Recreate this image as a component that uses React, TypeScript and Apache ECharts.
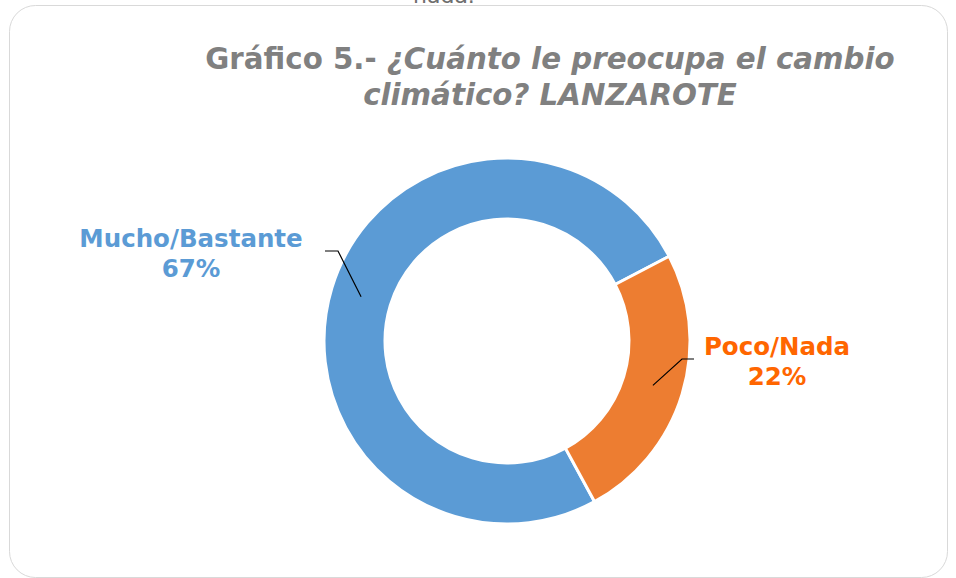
import React, { useEffect, useRef } from "react";
import * as echarts from "echarts";

const categories = ["Mucho/Bastante", "Poco/Nada"];
const values = [67, 22];
const sliceColors = ["#5B9BD5", "#ED7D31"];
const labelColors = ["#5B9BD5", "#FF6600"];
const titleLine1Plain = "Gráfico 5.-";
const titleLine1Italic = "¿Cuánto le preocupa el cambio";
const titleLine2Italic = "climático? LANZAROTE";
const strayText = "nada.";

export default function App() {
  const ref = useRef<HTMLDivElement>(null);
  useEffect(() => {
    if (!ref.current) return;
    const chart = echarts.init(ref.current, undefined, { renderer: "svg" });
    const cx = 507;
    const cy = 341;
    const rIn = 122;
    const rOut = 183;
    const startAngle = -61.4; // ECharts degrees (ccw from 3 o'clock)
    const total = values.reduce((a, b) => a + b, 0);
    const startCw = 90 - startAngle;
    let acc = startCw;
    const mids = values.map((v) => {
      const span = (v / total) * 360;
      const m = acc + span / 2;
      acc += span;
      return m;
    });
    const rMid = (rIn + rOut) / 2;
    const labelPos = [
      { x: 191, y: 253, elbow: [338, 251], end: [325, 251] },
      { x: 777, y: 361, elbow: [682, 359], end: [694, 359] },
    ];
    const leaderLines = values.map((_, i) => {
      const a = (mids[i] * Math.PI) / 180;
      const sx = cx + rMid * Math.sin(a);
      const sy = cy - rMid * Math.cos(a);
      const p = labelPos[i];
      return {
        type: "polyline",
        z: 100,
        silent: true,
        shape: { points: [[sx, sy], p.elbow, p.end] },
        style: { stroke: "#000000", lineWidth: 1.2, fill: "none" },
      };
    });

    chart.setOption({
      animation: false,
      backgroundColor: "#ffffff",
      graphic: [
        {
          type: "rect",
          shape: { x: 9.5, y: 5.5, width: 938, height: 572, r: 26 },
          style: { fill: "none", stroke: "#D9D9D9", lineWidth: 1 },
          silent: true,
        },
        {
          type: "text",
          x: 413,
          y: -16,
          style: { text: strayText, fill: "#6E6E6E", font: "22px 'DejaVu Sans'" },
          silent: true,
        },
        {
          type: "text",
          x: 550,
          y: 44,
          style: {
            text: `{n|${titleLine1Plain} }{i|${titleLine1Italic}}`,
            align: "center",
            rich: {
              n: { fontFamily: "DejaVu Sans", fontSize: 29.3, fontWeight: "bold", fill: "#808080" },
              i: { fontFamily: "DejaVu Sans", fontSize: 29.3, fontWeight: "bold", fontStyle: "italic", fill: "#808080" },
            },
          },
          silent: true,
        },
        {
          type: "text",
          x: 550,
          y: 80,
          style: {
            text: titleLine2Italic,
            align: "center",
            fill: "#808080",
            font: "italic bold 29.3px 'DejaVu Sans'",
          },
          silent: true,
        },
        ...leaderLines,
      ],
      series: [
        {
          type: "pie",
          center: [cx, cy],
          radius: [rIn, rOut],
          startAngle,
          clockwise: true,
          data: categories.map((name, i) => ({
            name,
            value: values[i],
            itemStyle: { color: sliceColors[i] },
            label: { color: labelColors[i] },
          })),
          itemStyle: { borderColor: "#ffffff", borderWidth: 3 },
          label: {
            show: true,
            position: "outside",
            formatter: "{b}\n{c}%",
            fontFamily: "DejaVu Sans",
            fontSize: 24.5,
            fontWeight: "bold",
            lineHeight: 30,
            align: "center",
          },
          labelLine: { show: false },
          labelLayout: (params: any) => {
            const p = labelPos[params.dataIndex];
            return { x: p.x, y: p.y, align: "center", verticalAlign: "middle" };
          },
          emphasis: { disabled: true },
        },
      ],
    });
    return () => chart.dispose();
  }, []);
  return (
    <div
      ref={ref}
      style={{ position: "fixed", left: 0, top: 0, width: 956, height: 578 }}
    />
  );
}
